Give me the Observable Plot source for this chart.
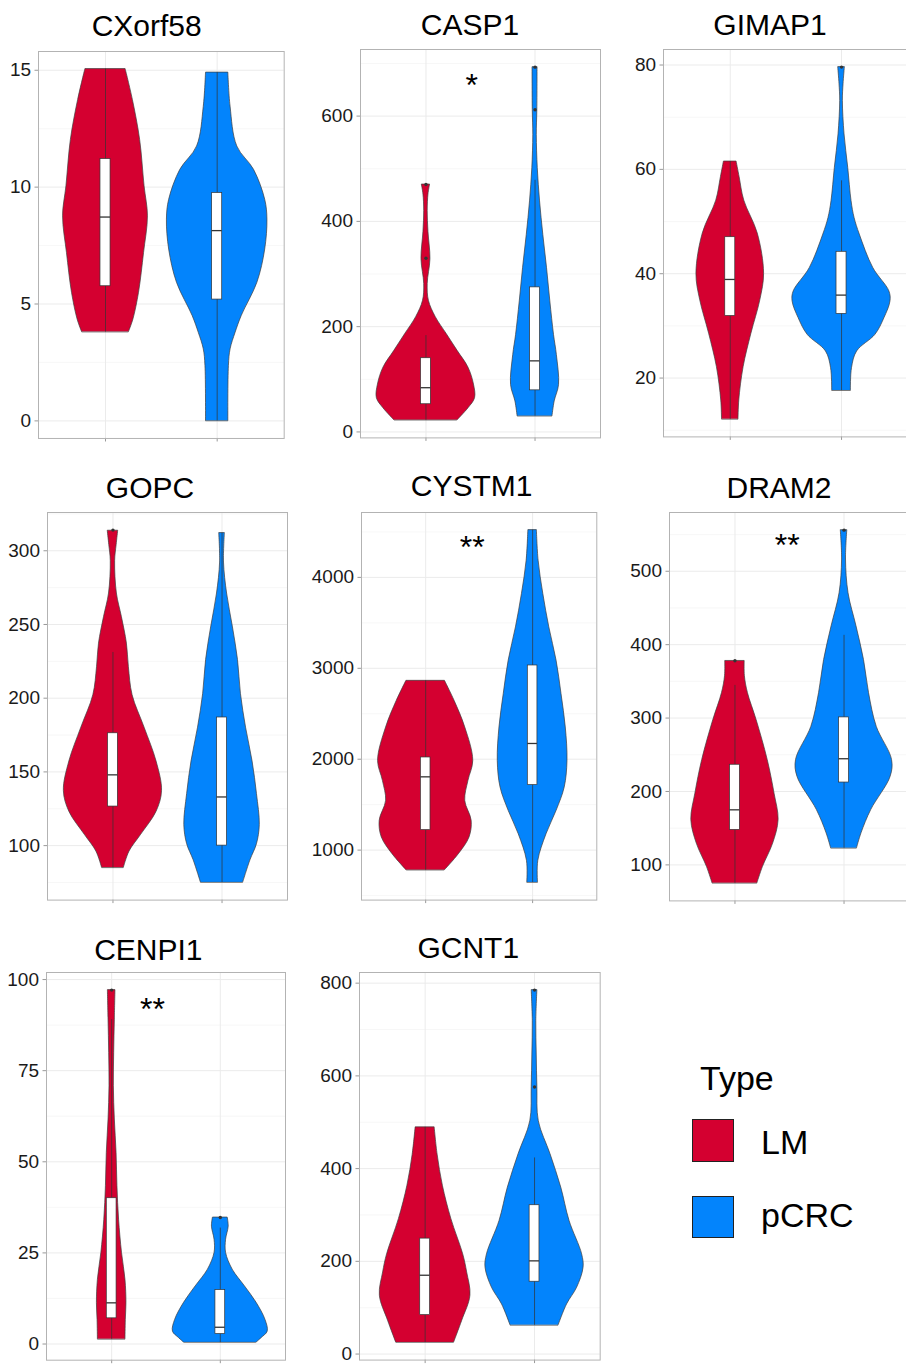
<!DOCTYPE html>
<html><head><meta charset="utf-8">
<script src="https://cdn.jsdelivr.net/npm/d3@7"></script>
<script src="https://cdn.jsdelivr.net/npm/@observablehq/plot@0.6"></script>
<style>
html,body{margin:0;padding:0;background:#fff;}
body{width:906px;height:1364px;position:relative;overflow:hidden;font-family:"Liberation Sans",Arial,sans-serif;}
.panel{position:absolute;}
.panel svg{max-width:none !important;}
.title{position:absolute;font-size:30px;line-height:30px;color:#000;text-align:center;width:300px;white-space:nowrap;}
.lg{position:absolute;white-space:nowrap;color:#000;font-size:34px;line-height:34px;}
.sw{position:absolute;box-sizing:border-box;border:1.5px solid #222;}
</style></head><body>
<script>
// ---------- data ----------
const genes = ["CXorf58","CASP1","GIMAP1","GOPC","CYSTM1","DRAM2","CENPI1","GCNT1"];
const groups = ["LM","pCRC"];
const groupColors = ["#D40030","#0384FC"];
const legendTitle = "Type";

const yTickValues = [
  [0,5,10,15],[0,200,400,600],[20,40,60,80],[100,150,200,250,300],
  [1000,2000,3000,4000],[100,200,300,400,500],[0,25,50,75,100],[0,200,400,600,800]
];

// violin outline: [value, half-width in x units]
const violinLM = [
  [[3.8,0.21],[4.34,0.25],[5.48,0.30],[7.18,0.345],[8.75,0.38],[10.03,0.35],[12.02,0.31],[13.73,0.245],[15.05,0.18]],
  [[22.2,0.29],[45,0.39],[64,0.45],[90,0.44],[122,0.39],[154,0.29],[186,0.19],[218,0.09],[249,0.027],[281,0.016],[328,0.041],[380,0.023],[420,0.016],[451,0.023],[470,0.038]],
  [[12.1,0.074],[15.7,0.081],[22.1,0.12],[28.5,0.19],[34.9,0.27],[40,0.304],[47.7,0.247],[54,0.126],[58.5,0.084],[61.5,0.057]],
  [[85,0.10],[96,0.152],[107,0.255],[123,0.40],[137,0.45],[157,0.40],[180,0.29],[202,0.18],[221,0.146],[237,0.128],[255,0.082],[271,0.036],[293,0.02],[304,0.034],[313.6,0.048]],
  [[779,0.18],[955,0.31],[1139,0.41],[1322,0.43],[1542,0.37],[1762,0.40],[1982,0.445],[2349,0.37],[2642,0.27],[2862,0.18]],
  [[75,0.206],[97,0.256],[129,0.35],[161,0.40],[197,0.363],[243,0.30],[297,0.199],[334,0.119],[357,0.091],[377.8,0.089]],
  [[1.3,0.127],[6.6,0.13],[11.3,0.136],[17.6,0.127],[25,0.095],[34.1,0.068],[43.3,0.053],[52.4,0.045],[61.6,0.029],[70.7,0.02],[79.9,0.023],[89,0.029],[97.1,0.035]],
  [[25,0.265],[72,0.339],[126,0.414],[176,0.384],[215,0.348],[291,0.24],[363,0.162],[430,0.114],[489,0.087]]
];
const violinPCRC = [
  [[0,0.10],[2.35,0.105],[3.06,0.12],[3.77,0.165],[4.49,0.22],[5.91,0.36],[7.33,0.43],[8.61,0.45],[9.46,0.43],[10.74,0.33],[11.74,0.18],[13.44,0.12],[14.9,0.10]],
  [[30,0.16],[58,0.18],[89,0.22],[146,0.2],[184,0.174],[248,0.14],[311,0.11],[374,0.076],[438,0.046],[501,0.025],[564,0.016],[612,0.021],[693,0.023]],
  [[17.6,0.084],[21.9,0.094],[25.1,0.14],[28.3,0.305],[31.5,0.386],[34.7,0.44],[36.6,0.43],[41.1,0.285],[47.5,0.164],[50.7,0.117],[53.9,0.09],[60.3,0.06],[66.7,0.027],[73.1,0.012],[76.3,0.018],[79.6,0.03]],
  [[75,0.194],[90,0.26],[101,0.32],[114,0.346],[135,0.32],[157,0.28],[180,0.22],[203,0.173],[226,0.146],[248,0.10],[271,0.046],[292,0.018],[312,0.026]],
  [[644,0.05],[882,0.053],[1175,0.13],[1432,0.224],[1689,0.30],[1982,0.326],[2349,0.31],[2716,0.27],[3083,0.224],[3450,0.156],[3816,0.10],[4183,0.056],[4520,0.04]],
  [[122.7,0.119],[143,0.16],[175,0.25],[220,0.427],[243,0.44],[288,0.30],[334,0.229],[379,0.183],[425,0.114],[470,0.041],[516,0.018],[556,0.03]],
  [[0.4,0.334],[1.6,0.379],[3.4,0.436],[6.6,0.416],[11.3,0.334],[15.8,0.227],[20.4,0.114],[25,0.053],[28.6,0.053],[32.2,0.077],[34.7,0.068]],
  [[62,0.22],[107,0.297],[143,0.389],[186,0.448],[215,0.435],[287,0.32],[359,0.244],[431,0.146],[502,0.039],[576,0.026],[646,0.02],[718,0.016],[785,0.026]]
];

// box stats: [lower whisker, q1, median, q3, upper whisker]
const boxLM = [
  [3.8,5.76,8.72,11.2,15.05],[22.2,52.6,84,140,183],[12.1,31.9,38.9,47.0,61.5],[85,126.5,148,176.2,231],
  [779,1220,1806,2019,2862],[75,147.7,175,236.4,344.5],[1.3,7.05,11.3,40,89],[25,84,170,249,489]
];
const boxPCRC = [
  [0,5.19,8.14,9.75,14.9],[30,79,135,274.6,478],[17.6,32.3,35.9,44.2,57.8],[75,100,133,186.9,312],
  [644,1715,2173,3031,4520],[122.7,212.2,244.6,300.9,412.7],[0.4,2.75,4.6,14.8,31.8],[62,156,201,321,423]
];
const outliersLM = [[],[330,470],[],[314],[],[378],[97.1],[]];
const outliersPCRC = [[],[612,693],[79.6],[],[],[556],[34.7],[576,785]];

const sigLabels = ["","*","","","**","**","**",""];
const sigX = [null,1.42,null,null,1.435,1.48,1.375,null];
const sigY = [null,673,null,null,4421,545.5,94,null];

// ---------- layout ----------
const frames = [ // left, right, top, bottom of each panel (page px)
  [38.3,284,50.7,437.7],[360,600,49.3,437.7],[662.7,907.5,49.3,436.7],
  [46.7,286.7,511.7,899.3],[360.7,596,511.7,899.3],[669,909,512.3,900.7],
  [46,285,972.3,1360],[359.3,600,971.7,1359.3]
];
const titlePos = [[146.7,36],[470,35],[770,35],[150,498],[471.7,496],[779,498],[148.3,960],[468.3,958]];

const FONT = "Liberation Sans, Arial, sans-serif";
const TITLE_FS = 30;
const TICK_FS = 19;
const SIG_FS = 32;
const BOX_HW = 0.045;

function drawPanel(i) {
  const [fl, fr, ft, fb] = frames[i];
  const mL = 60, mR = 4, mT = 4, mB = 12;
  const W = fr - fl + mL + mR, H = fb - ft + mT + mB;
  const rows = [];
  const boxes = [];
  const outs = [];
  groups.forEach((g, gi) => {
    const prof = (gi === 0 ? violinLM : violinPCRC)[i];
    prof.forEach(([v, w]) => rows.push({group: g, v, x1: gi + 1 - w, x2: gi + 1 + w}));
    const [lo, q1, med, q3, hi] = (gi === 0 ? boxLM : boxPCRC)[i];
    boxes.push({group: g, pos: gi + 1, lo, q1, med, q3, hi});
    (gi === 0 ? outliersLM : outliersPCRC)[i].forEach(v => outs.push({pos: gi + 1, v}));
  });
  const ext = d3.extent(rows.map(d => d.v).concat(outs.map(d => d.v)));
  const pad = (ext[1] - ext[0]) * 0.05;
  const domain = [ext[0] - pad, ext[1] + pad];
  const major = yTickValues[i];
  const step = major[1] - major[0];
  const minor = [];
  for (let t = major[0] - step / 2; t <= domain[1]; t += step) if (t >= domain[0]) minor.push(t);
  const sig = sigLabels[i] ? [{x: sigX[i], y: sigY[i], t: sigLabels[i]}] : [];

  const svg = Plot.plot({
    width: W, height: H,
    marginLeft: mL, marginRight: mR, marginTop: mT, marginBottom: mB,
    style: {fontFamily: FONT, background: "transparent", overflow: "visible", maxWidth: "none"},
    x: {domain: [0.4, 2.6]},
    y: {domain},
    color: {domain: groups, range: groupColors},
    marks: [
      Plot.gridY(minor, {stroke: "#f3f3f3", strokeOpacity: 1, strokeWidth: 0.7}),
      Plot.gridY(major, {stroke: "#ebebeb", strokeOpacity: 1, strokeWidth: 1}),
      Plot.gridX([1, 2], {stroke: "#ebebeb", strokeOpacity: 1, strokeWidth: 1}),
      Plot.areaX(rows, {y: "v", x1: "x1", x2: "x2", z: "group", fill: "group", stroke: "#3d3d3d", strokeWidth: 0.7, curve: "catmull-rom"}),
      Plot.ruleX(boxes, {x: "pos", y1: "lo", y2: "hi", stroke: "#333", strokeWidth: 0.7}),
      Plot.rect(boxes, {x1: d => d.pos - BOX_HW, x2: d => d.pos + BOX_HW, y1: "q1", y2: "q3", fill: "white", stroke: "#333", strokeWidth: 0.7}),
      Plot.ruleY(boxes, {y: "med", x1: d => d.pos - BOX_HW, x2: d => d.pos + BOX_HW, stroke: "#333", strokeWidth: 1.3}),
      Plot.dot(outs, {x: "pos", y: "v", r: 1.7, fill: "#333", stroke: null}),
      Plot.text(sig, {x: "x", y: "y", text: "t", fontSize: SIG_FS, fill: "#000", lineAnchor: "middle", dy: SIG_FS * 0.26}),
      Plot.axisY(major, {anchor: "left", tickSize: 3.5, tickPadding: 4, fontSize: TICK_FS, stroke: "#999", fill: "#1a1a1a", label: null, tickFormat: d => String(d)}),
      Plot.axisX([1, 2], {anchor: "bottom", tickSize: 3.5, tickPadding: 0, tickFormat: () => "", stroke: "#999", label: null}),
      Plot.frame({stroke: "#b3b3b3", strokeWidth: 1})
    ]
  });
  svg.style.maxWidth = "none";
  const div = document.createElement("div");
  div.className = "panel";
  div.style.left = (fl - mL) + "px";
  div.style.top = (ft - mT) + "px";
  div.style.width = W + "px";
  div.style.height = H + "px";
  div.appendChild(svg);
  document.body.appendChild(div);

  const t = document.createElement("div");
  t.className = "title";
  t.textContent = genes[i];
  t.style.left = (titlePos[i][0] - 150) + "px";
  t.style.top = (titlePos[i][1] - 0.8465 * TITLE_FS) + "px";
  document.body.appendChild(t);
}
genes.forEach((g, i) => drawPanel(i));

// ---------- legend ----------
function addText(txt, x, baseline, fs) {
  const d = document.createElement("div");
  d.className = "lg";
  d.textContent = txt;
  d.style.fontSize = fs + "px";
  d.style.lineHeight = fs + "px";
  d.style.left = x + "px";
  d.style.top = (baseline - 0.8465 * fs) + "px";
  document.body.appendChild(d);
}
addText(legendTitle, 700, 1090, 34);
const swTop = [1119.3, 1195.7];
const labBase = [1153.3, 1226.7];
groups.forEach((g, gi) => {
  const s = document.createElement("div");
  s.className = "sw";
  s.style.left = "691.7px";
  s.style.top = swTop[gi] + "px";
  s.style.width = "42.6px";
  s.style.height = "42.6px";
  s.style.background = groupColors[gi];
  document.body.appendChild(s);
  addText(g, 761, labBase[gi], 34);
});
</script>
</body></html>
